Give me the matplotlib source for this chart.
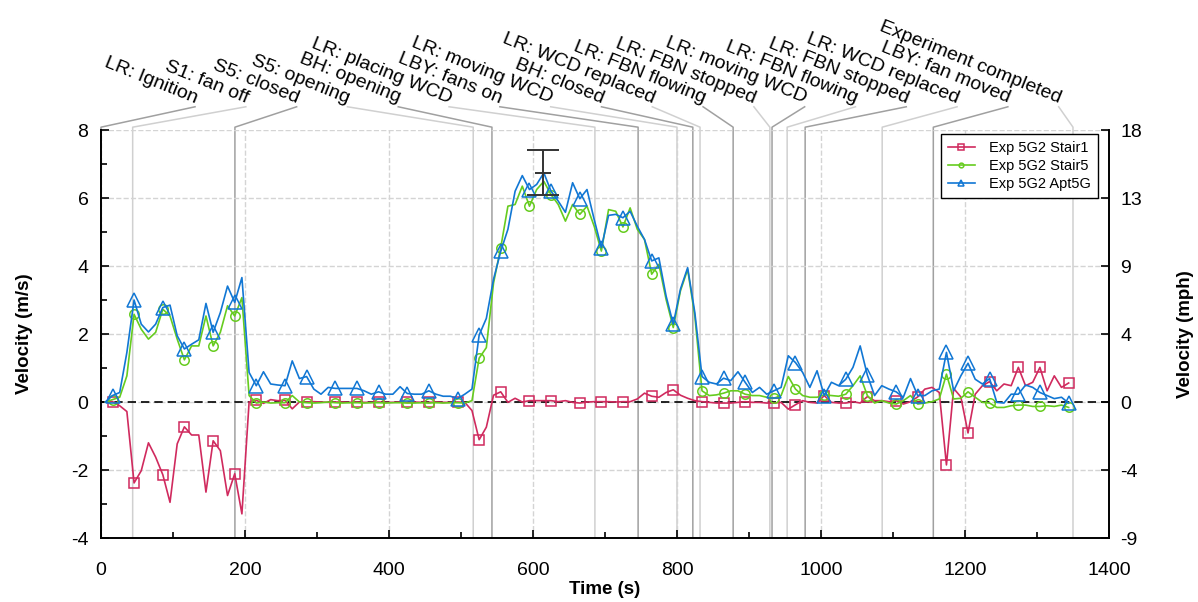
import numpy as np
import matplotlib
matplotlib.use("Agg")
import matplotlib.pyplot as plt
from matplotlib.ticker import MultipleLocator, FixedLocator

plt.rcParams['font.family'] = ['Liberation Sans', 'DejaVu Sans']
plt.rcParams['axes.unicode_minus'] = False

# sample times (s), logger ~10 s interval
TIME = np.linspace(6, 1344, 135)

STAIR1 = [0.00, 0.01, -0.11, -0.28, -2.38, -2.02, -1.20, -1.62, -2.14, -2.95,
          -1.23, -0.73, -0.97, -0.97, -2.65, -1.14, -1.43, -2.75, -2.11, -3.29,
          0.00, 0.05, -0.04, 0.07, 0.04, 0.05, -0.20, 0.00, 0.00, 0.01,
          0.00, -0.01, 0.00, 0.00, -0.01, 0.00, -0.01, -0.01, 0.00, -0.01,
          -0.01, 0.00, -0.01, 0.00, -0.01, -0.01, 0.00, -0.01, -0.01, 0.00,
          -0.01, -0.25, -1.11, -0.74, 0.20, 0.30, -0.01, 0.11, 0.00, 0.04,
          0.04, 0.04, 0.04, 0.01, 0.04, -0.01, -0.03, 0.00, 0.01, 0.01,
          0.01, 0.00, 0.01, 0.01, 0.09, 0.26, 0.17, 0.14, 0.28, 0.36,
          0.20, 0.11, 0.04, 0.01, -0.01, -0.03, -0.03, -0.03, -0.01, 0.01,
          -0.01, -0.01, -0.03, -0.03, -0.01, -0.21, -0.08, 0.04, -0.01, -0.03,
          0.19, -0.01, -0.03, -0.03, 0.01, -0.03, 0.16, 0.04, 0.04, 0.01,
          0.04, -0.06, 0.01, 0.15, 0.38, 0.43, 0.28, -1.85, 0.40, 0.15,
          -0.91, 0.23, 0.48, 0.60, 0.33, 0.53, 0.48, 1.02, 0.48, 0.58,
          1.02, 0.33, 0.77, 0.43, 0.56]

STAIR5 = [0.00, 0.07, 0.14, 0.77, 2.58, 2.14, 1.85, 2.05, 2.73, 2.53,
          1.85, 1.24, 1.65, 1.65, 2.53, 1.65, 2.05, 2.83, 2.53, 3.07,
          0.19, -0.03, 0.00, -0.03, -0.02, -0.02, 0.19, 0.00, -0.02, -0.03,
          -0.02, 0.00, -0.02, -0.03, -0.02, -0.02, -0.03, -0.02, -0.02, -0.03,
          -0.02, -0.02, -0.03, -0.03, -0.02, -0.03, -0.02, -0.03, -0.02, -0.02,
          -0.03, 0.04, 1.29, 1.60, 3.50, 4.54, 5.76, 5.81, 6.35, 5.76,
          6.25, 6.49, 6.10, 5.81, 5.32, 5.81, 5.52, 5.76, 5.17, 4.44,
          5.66, 5.61, 5.15, 5.71, 5.08, 4.78, 3.76, 4.05, 3.02, 2.19,
          3.27, 3.90, 2.53, 0.33, 0.19, 0.21, 0.26, 0.33, 0.33, 0.23,
          0.19, 0.19, 0.14, 0.11, 0.19, 0.75, 0.38, 0.19, 0.14, 0.14,
          0.21, 0.19, 0.17, 0.23, 0.48, 0.77, 0.19, -0.03, 0.04, -0.03,
          -0.06, 0.04, 0.19, -0.06, -0.03, 0.01, 0.09, 0.82, 0.09, 0.11,
          0.30, 0.14, -0.01, -0.03, -0.16, -0.16, -0.11, -0.09, -0.09, -0.13,
          -0.13, -0.11, -0.13, -0.09, -0.16]

APT5G = [0.00, 0.19, 0.28, 1.46, 3.00, 2.29, 2.06, 2.29, 2.78, 2.85,
         1.95, 1.56, 1.70, 1.83, 2.90, 2.05, 2.63, 3.41, 2.93, 3.66,
         0.87, 0.48, 0.89, 0.53, 0.50, 0.48, 1.21, 0.69, 0.75, 0.38,
         0.23, 0.43, 0.40, 0.40, 0.40, 0.40, 0.33, 0.23, 0.30, 0.23,
         0.23, 0.45, 0.25, 0.23, 0.23, 0.33, 0.23, 0.17, 0.17, 0.10,
         0.23, 0.38, 1.97, 2.46, 3.61, 4.43, 5.08, 6.20, 6.66, 6.25,
         6.40, 6.74, 6.20, 5.91, 5.58, 6.45, 5.98, 6.25, 5.37, 4.54,
         5.49, 5.52, 5.42, 5.61, 5.17, 4.78, 4.15, 4.24, 3.12, 2.29,
         3.32, 3.95, 2.63, 0.75, 0.58, 0.53, 0.70, 0.63, 0.89, 0.58,
         0.28, 0.43, 0.23, 0.33, 0.43, 1.36, 1.16, 0.87, 0.43, 0.92,
         0.19, 0.58, 0.48, 0.67, 1.02, 1.65, 0.79, 0.19, 0.48, 0.38,
         0.30, 0.14, 0.69, 0.19, 0.19, 0.33, 0.38, 1.46, 0.33, 0.77,
         1.14, 0.67, 0.53, 0.69, -0.01, -0.03, 0.23, 0.23, 0.50, 0.43,
         0.28, 0.19, 0.10, 0.14, -0.03]

SERIES_LABELS = ["Exp 5G2 Stair1", "Exp 5G2 Stair5", "Exp 5G2 Apt5G"]

EVENT_TIMES = [0, 44, 186, 517, 543, 686, 746, 800, 822, 832,
               878, 929, 932, 953, 978, 1085, 1156, 1350]
EVENT_LABELS = ["LR: Ignition", "S1: fan off", "S5: closed", "S5: opening",
                "BH: opening", "LR: placing WCD", "LBY: fans on",
                "LR: moving WCD", "BH: closed", "LR: WCD replaced",
                "LR: FBN flowing", "LR: FBN stopped", "LR: moving WCD",
                "LR: FBN flowing", "LR: FBN stopped", "LR: WCD replaced",
                "LBY: fan moved", "Experiment completed"]

# single measured point with uncertainty
ERR_T = 614
ERR_V = 6.75
ERR_DV = 0.65

MS_TO_MPH = 2.23694

RED = '#d02a5e'
GREEN = '#66cc1f'
BLUE = '#1177d4'

fig = plt.figure(figsize=(11.98, 6.02), dpi=100)
ax = fig.add_axes([0.0843, 0.1063, 0.8414, 0.6777])

ax.set_xlim(0, 1400)
ax.set_ylim(-4, 8)
ax.grid(which='major', ls='--', color='#d4d4d4', lw=1, zorder=0)
ax.axhline(0, color='black', ls='--', lw=1.2, dashes=(5, 3), zorder=2)

# event markers: vertical line + connector to slanted label
for i, (t, lab) in enumerate(zip(EVENT_TIMES, EVENT_LABELS)):
    c = '#a0a0a0' if i % 2 == 0 else '#d0d0d0'
    xa = 0.0933 + 0.0504 * i
    xt = t / 1400.0
    ax.plot([xa, xt, xt], [1.057, 1.007, 0], transform=ax.transAxes,
            color=c, lw=1.1, clip_on=False, zorder=1)
    ax.text(xa, 1.066, lab, transform=ax.transAxes, rotation=-22,
            rotation_mode='anchor', ha='right', va='baseline', fontsize=14)

mk_idx = [int(round(1 + 3.4 * j)) for j in range(40)]
mk_idx = [m for m in mk_idx if m < len(TIME)]

ax.plot(TIME, STAIR1, color=RED, lw=1.2, marker='s', ms=7.5, mfc='none',
        mew=1.1, markevery=mk_idx, label=SERIES_LABELS[0], zorder=3)
ax.plot(TIME, STAIR5, color=GREEN, lw=1.2, marker='o', ms=6.8, mfc='none',
        mew=1.1, markevery=mk_idx, label=SERIES_LABELS[1], zorder=4)
ax.plot(TIME, APT5G, color=BLUE, lw=1.2, marker='^', ms=10, mfc='none',
        mew=1.1, markevery=mk_idx, label=SERIES_LABELS[2], zorder=5)

ax.errorbar([ERR_T], [ERR_V], yerr=[ERR_DV], fmt='_', color='#333333',
            ms=12, mew=1.4, elinewidth=1.4, capsize=11.5, capthick=1.4, zorder=6)

leg = ax.legend(loc='upper right', bbox_to_anchor=(0.989, 0.99), fontsize=10.5,
                frameon=True, fancybox=False, edgecolor='black', framealpha=1,
                markerscale=0.5, handlelength=1.85, handletextpad=0.95,
                labelspacing=0.25, borderpad=0.5, borderaxespad=0)
leg.get_frame().set_linewidth(1.0)

ax.xaxis.set_major_locator(MultipleLocator(200))
ax.xaxis.set_minor_locator(MultipleLocator(100))
ax.yaxis.set_major_locator(MultipleLocator(2))
ax.yaxis.set_minor_locator(MultipleLocator(1))
ax.tick_params(which='both', direction='in', labelsize=14, width=1.2)
ax.tick_params(which='major', length=6)
ax.tick_params(which='minor', length=4)
ax.tick_params(axis='x', which='both', pad=17)
ax.tick_params(axis='y', which='both', pad=9)
ax.spines['top'].set_visible(False)
ax.spines['right'].set_visible(False)
for s in ['left', 'bottom']:
    ax.spines[s].set_linewidth(1.4)

ax.set_xlabel("Time (s)", fontsize=13.5, fontweight='bold', labelpad=2)
ax.set_ylabel("Velocity (m/s)", fontsize=13.5, fontweight='bold', labelpad=27)

ax2 = ax.twinx()
ax2.set_ylim(ax.get_ylim())
ms_ticks = np.arange(-4, 9, 2)
ax2.yaxis.set_major_locator(FixedLocator(ms_ticks))
ax2.set_yticklabels([str(int(round(v * MS_TO_MPH))) for v in ms_ticks])
ax2.tick_params(direction='in', labelsize=14, length=6, width=1.2, pad=8)
ax2.spines['top'].set_visible(False)
ax2.spines['left'].set_visible(False)
ax2.spines['bottom'].set_visible(False)
ax2.spines['right'].set_linewidth(1.4)
ax2.set_ylabel("Velocity (mph)", fontsize=13.5, fontweight='bold', labelpad=25)

fig.savefig("out.png", dpi=100)
